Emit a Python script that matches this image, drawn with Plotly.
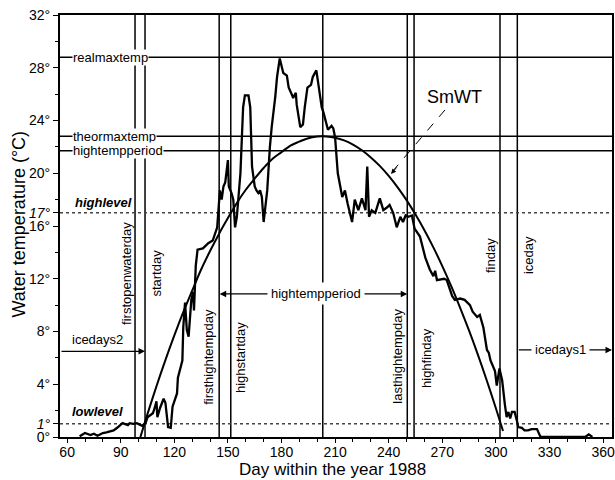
import plotly.graph_objects as go

# ---------------- data ----------------
obs_day = [67, 70, 73, 75, 77, 80, 82, 84, 86, 88, 90, 91, 94, 95, 97, 99, 102, 104, 105, 108,
           109, 110, 110.5, 112, 114, 115, 116.5, 118, 119, 121.5, 122, 124.5, 125, 126, 127, 128,
           129.5, 130.5, 131, 132, 133, 136, 139, 141.5, 144, 144.5, 145.5, 146.5, 147.5, 148.5,
           149.5, 150, 150.5, 152, 153, 154, 155, 157, 158.5, 159.5, 161.5, 162.5, 163.5, 164,
           165, 166, 167, 168, 169, 170, 172, 173.5, 174.5, 176.5, 177.5, 179, 181, 183, 184, 186,
           186.5, 188, 188.5, 190.5, 192, 193, 194.5, 196.5, 197.5, 199.5, 200.5, 202.5, 203.5,
           205, 206, 208, 209, 210, 211.5, 214, 215.5, 217, 219.5, 221, 223, 225, 227, 228, 229,
           230.5, 232.5, 235, 237, 239, 240.5, 242.5, 244.5, 246.5, 248, 249.5, 251, 253, 254.5,
           257.5, 260.5, 263, 265, 266, 267, 271, 272.5, 275.5, 277, 280, 282.5, 285.5, 287,
           289.5, 291, 293, 295, 296, 297, 299.5, 300.5, 302, 303.5, 305, 306, 307, 308, 309,
           310.5, 312, 312.5, 314.5, 316, 318, 320, 323, 324, 325, 350, 352, 354]
obs_temp = [0.05, 0.3, 0.15, 0.25, 0.1, 0.3, 0.35, 0.45, 0.5, 0.7, 0.9, 1.05, 0.9, 1.05, 1.0, 1.05,
            0.85, 1.1, 1.5, 1.8, 2.2, 2.7, 1.5, 2.2, 2.9, 2.6, 0.75, 0.7, 2.3, 3.3, 4.5, 5.8, 8.3,
            10.2, 8.1, 7.6, 10.4, 11.0, 9.6, 13.0, 14.2, 14.3, 14.7, 14.9, 15.9, 16.8, 18.7, 18.0,
            19.0, 19.3, 20.2, 21.0, 19.0, 18.5, 18.0, 15.9, 16.7, 20.0, 25.0, 25.9, 25.9, 25.0,
            20.5, 20.0, 19.0, 18.7, 18.5, 18.7, 18.2, 16.3, 18.7, 22.0, 23.5, 25.8, 27.3, 28.7,
            27.6, 27.4, 26.5, 25.9, 25.7, 26.1, 25.2, 23.5, 23.7, 25.0, 26.5, 26.7, 27.3, 27.8,
            26.8, 25.0, 24.6, 23.9, 23.3, 23.6, 23.4, 22.7, 20.0, 18.2, 18.7, 17.7, 16.3, 18.0,
            17.2, 18.1, 17.2, 20.5, 16.7, 17.2, 17.0, 18.1, 17.2, 17.4, 17.6, 17.0, 15.9, 16.7,
            16.3, 16.8, 16.7, 16.8, 15.8, 15.2, 13.6, 12.7, 12.2, 12.6, 11.9, 12.0, 11.9, 10.7,
            10.4, 10.5, 10.4, 10.0, 9.5, 9.1, 9.25, 8.3, 6.6, 6.4, 5.8, 5.0, 3.9, 5.2, 4.3, 2.5,
            1.5, 1.9, 1.4, 1.9, 1.9, 1.1, 0.75, 0.7, 0.5, 0.5, 0.6, 0.6, 0.3, 0.0, 0.0, 0.2, 0.0]

smwt_day = [101, 105, 110, 115, 120, 125, 130, 135, 140, 145, 150, 155, 160, 165, 170, 175, 180,
            185, 190, 195, 200, 203, 205, 210, 215, 220, 225, 230, 235, 240, 245, 250, 255, 260,
            265, 270, 275, 280, 285, 290, 295, 300, 304]
smwt_temp = [0.0, 1.75, 3.85, 5.83, 7.7, 9.47, 11.1, 12.7, 14.1, 15.4, 16.6, 17.75, 18.75, 19.6,
             20.4, 21.1, 21.6, 22.1, 22.4, 22.66, 22.78, 22.8, 22.79, 22.69, 22.49, 22.17, 21.74,
             21.2, 20.56, 19.8, 18.93, 17.96, 16.87, 15.68, 14.38, 12.96, 11.44, 9.8, 8.06, 6.21,
             4.25, 2.18, 0.45]

# vertical marker days
vline_names = ["firstopenwaterday", "startday", "firsthightempday", "highstartday", "",
               "lasthightempday", "highfinday", "finday", "iceday"]
vline_days = [98, 103.6, 145.1, 151.6, 203.1, 250.4, 254.2, 302.3, 312.0]

# horizontal levels
hline_names = ["realmaxtemp", "theormaxtemp", "hightempperiod"]
hline_temps = [28.8, 22.8, 21.7]
level_names = ["highlevel", "lowlevel"]
level_temps = [17, 1]

ytick_vals = [0, 1, 4, 8, 12, 16, 17, 20, 24, 28, 32]
ytick_text = ["0°", "<i>1°</i>", "4°", "8°", "12°", "16°", "<i>17°</i>", "20°", "24°", "28°", "32°"]
xtick_vals = [60, 90, 120, 150, 180, 210, 240, 270, 300, 330, 360]

X_MIN, X_MAX = 56, 365
Y_MIN, Y_MAX = 0, 32

FONT = "Liberation Sans, Arial, sans-serif"

fig = go.Figure()

fig.add_trace(go.Scatter(x=smwt_day, y=smwt_temp, mode="lines",
                         line=dict(color="black", width=2, shape="spline"),
                         hoverinfo="skip", showlegend=False))
fig.add_trace(go.Scatter(x=obs_day, y=obs_temp, mode="lines",
                         line=dict(color="black", width=2.3),
                         hoverinfo="skip", showlegend=False))

shapes = []
for d in vline_days:
    shapes.append(dict(type="line", xref="x", yref="y", x0=d, x1=d, y0=Y_MIN, y1=Y_MAX,
                       line=dict(color="black", width=1.5), layer="below"))
for t in hline_temps:
    shapes.append(dict(type="line", xref="x", yref="y", x0=X_MIN, x1=X_MAX, y0=t, y1=t,
                       line=dict(color="black", width=1.5), layer="below"))
for t in level_temps:
    shapes.append(dict(type="line", xref="x", yref="y", x0=X_MIN, x1=X_MAX, y0=t, y1=t,
                       line=dict(color="#444", width=1.5, dash="dot"), layer="below"))

# dashed pointer for SmWT
shapes.append(dict(type="line", xref="x", yref="y", x0=271.5, y0=24.8, x1=242.5, y1=20.2,
                   line=dict(color="black", width=1, dash="dash")))

ann = []
txt = dict(family=FONT, size=13, color="black")

# horizontal-line labels
label_y = {"realmaxtemp": hline_temps[0], "theormaxtemp": hline_temps[1],
           "hightempperiod": hline_temps[2]}
for name in hline_names:
    ann.append(dict(x=62.8, y=label_y[name], xref="x", yref="y", text=name, showarrow=False,
                    xanchor="left", yanchor="middle", font=txt, bgcolor="white", borderpad=0))

ann.append(dict(x=63, y=level_temps[0] + 0.8, xref="x", yref="y",
                text="<b><i>highlevel</i></b>", showarrow=False, xanchor="left",
                yanchor="middle", font=txt))
ann.append(dict(x=61.5, y=level_temps[1] + 0.9, xref="x", yref="y",
                text="<b><i>lowlevel</i></b>", showarrow=False, xanchor="left",
                yanchor="middle", font=txt))

# vertical rotated labels (day of label centre, temp of label centre)
vlabel_pos = {
    "firstopenwaterday": (93.2, 12.4),
    "startday": (109.8, 12.4),
    "firsthightempday": (139.0, 6.1),
    "highstartday": (157.4, 6.0),
    "lasthightempday": (244.7, 6.1),
    "highfinday": (261.5, 6.0),
    "finday": (296.7, 13.8),
    "iceday": (318.0, 13.8),
}
for name in vline_names:
    if not name:
        continue
    px, py = vlabel_pos[name]
    ann.append(dict(x=px, y=py, xref="x", yref="y", text=name, showarrow=False, textangle=-90,
                    xanchor="center", yanchor="middle", font=txt))

arrow = dict(showarrow=True, arrowhead=2, arrowsize=1, arrowwidth=1.3, arrowcolor="black",
             standoff=0, startstandoff=0, text="", xref="x", yref="y", axref="x", ayref="y")

# icedays2 (left axis -> startday)
ann.append(dict(arrow, x=vline_days[1], y=6.5, ax=X_MIN, ay=6.5))
ann.append(dict(x=61.5, y=7.4, xref="x", yref="y", text="icedays2", showarrow=False,
                xanchor="left", yanchor="middle", font=txt))

# hightempperiod double arrow
ann.append(dict(arrow, x=vline_days[2] + 0.3, y=10.85, ax=199, ay=10.85))
ann.append(dict(arrow, x=vline_days[5], y=10.85, ax=199, ay=10.85))
ann.append(dict(x=199.3, y=10.85, xref="x", yref="y", text="hightempperiod", showarrow=False,
                xanchor="center", yanchor="middle", font=txt, bgcolor="white", borderpad=3))

# icedays1 (iceday -> right frame)
ann.append(dict(arrow, x=X_MAX, y=6.6, ax=vline_days[8], ay=6.6))
ann.append(dict(x=336, y=6.6, xref="x", yref="y", text="icedays1", showarrow=False,
                xanchor="center", yanchor="middle", font=txt, bgcolor="white", borderpad=3))

# SmWT label and arrowhead
ann.append(dict(x=277, y=25.8, xref="x", yref="y", text="SmWT", showarrow=False,
                xanchor="center", yanchor="middle", font=dict(family=FONT, size=18, color="black")))
ann.append(dict(x=241.3, y=19.95, xref="x", yref="y", text="", showarrow=True, arrowhead=2,
                arrowsize=1, arrowwidth=1, arrowcolor="black", ax=7, ay=-8, standoff=0))

# axis titles
ann.append(dict(x=0.494, y=-0.078, xref="paper", yref="paper", text="Day within the year 1988",
                showarrow=False, xanchor="center", yanchor="middle",
                font=dict(family=FONT, size=17, color="black")))
ann.append(dict(x=-0.075, y=0.505, xref="paper", yref="paper", text="Water temperature (°C)",
                showarrow=False, textangle=-90, xanchor="center", yanchor="middle",
                font=dict(family=FONT, size=18, color="black")))

fig.update_layout(
    width=615, height=480,
    margin=dict(l=60, r=3, t=15, b=43, autoexpand=False),
    paper_bgcolor="white", plot_bgcolor="white",
    shapes=shapes, annotations=ann, showlegend=False,
    font=dict(family=FONT, size=14, color="black"),
)
fig.update_xaxes(range=[X_MIN, X_MAX], tickmode="array", tickvals=xtick_vals,
                 ticks="outside", ticklen=4, tickwidth=1.2, tickcolor="black",
                 ticklabelstandoff=-3, automargin=False,
                 showline=True, linecolor="black", linewidth=2, mirror=True,
                 showgrid=False, zeroline=False,
                 minor=dict(dtick=10, tick0=60, ticks="outside", ticklen=3, tickcolor="black",
                            showgrid=False),
                 tickfont=dict(family=FONT, size=14, color="black"))
fig.update_yaxes(range=[Y_MIN, Y_MAX], tickmode="array", tickvals=ytick_vals,
                 ticktext=ytick_text, automargin=False,
                 ticks="outside", ticklen=5, tickwidth=1.2, tickcolor="black",
                 showline=True, linecolor="black", linewidth=2, mirror=True,
                 showgrid=False, zeroline=False,
                 minor=dict(dtick=2, tick0=0, ticks="outside", ticklen=3, tickcolor="black",
                            showgrid=False),
                 tickfont=dict(family=FONT, size=14, color="black"))

fig.write_html("out.html")
